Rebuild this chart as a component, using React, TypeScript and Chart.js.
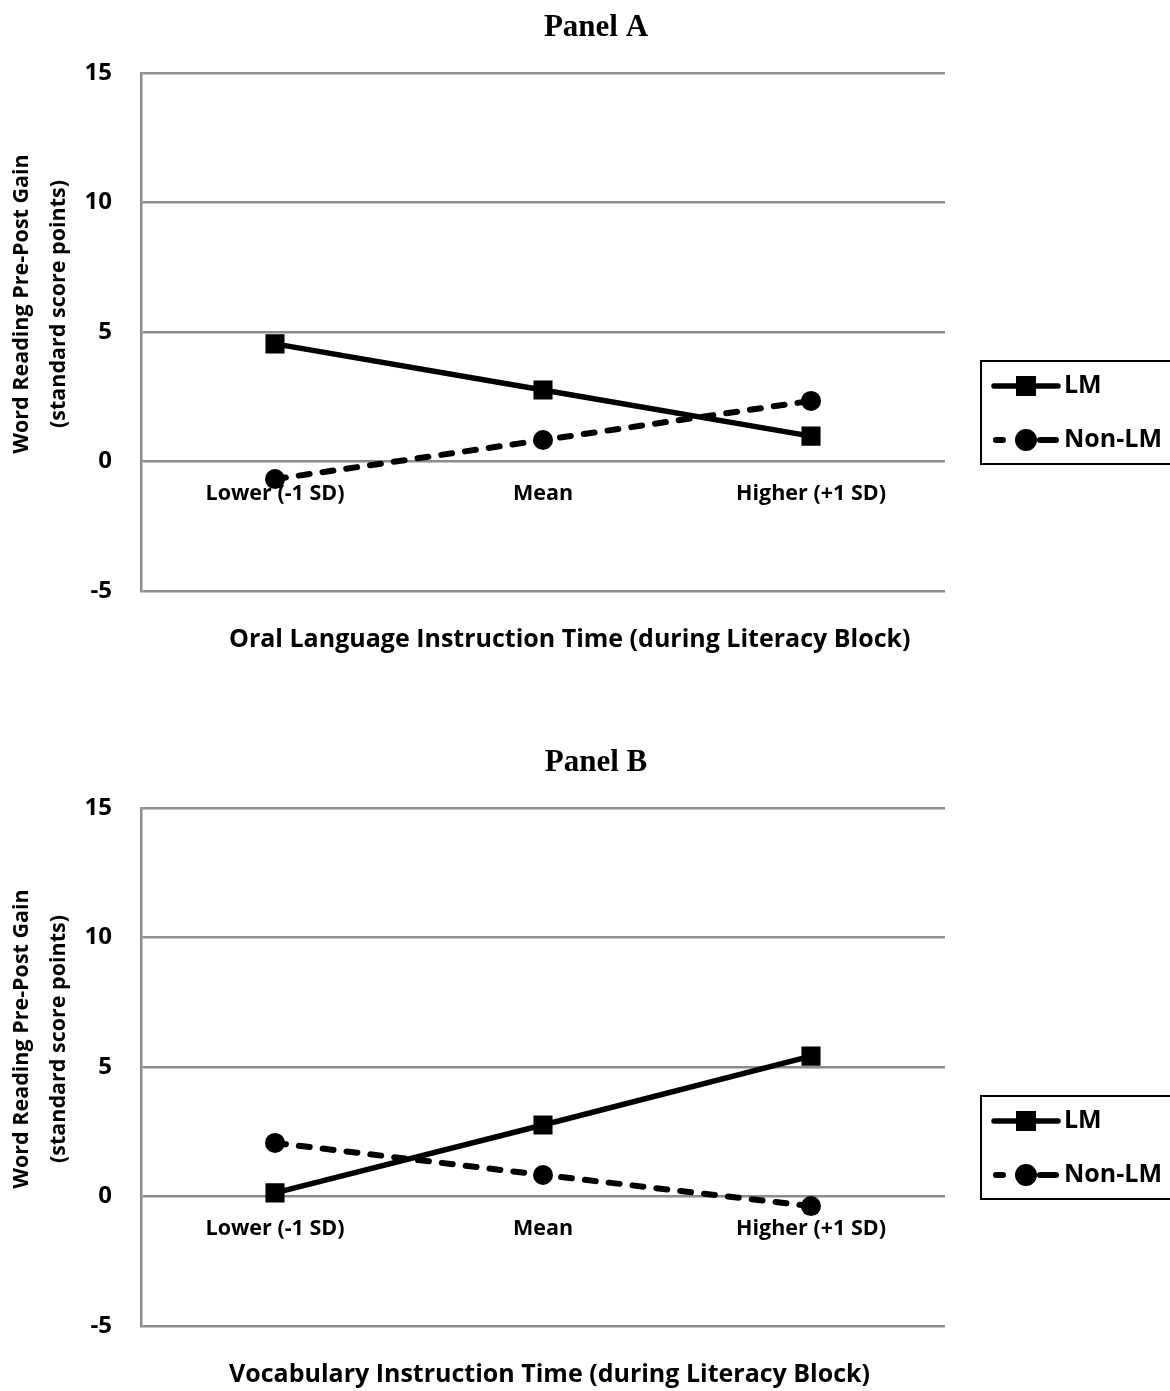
import React, { useEffect, useRef } from "react";
import { Chart, registerables } from "chart.js";

Chart.register(...registerables);

const categories = ["Lower (-1 SD)", "Mean", "Higher (+1 SD)"];
const yTicks = [-5, 0, 5, 10, 15];
const seriesNames = ["LM", "Non-LM"];

const panelATitle = "Panel A";
const panelAXTitle = "Oral Language Instruction Time (during Literacy Block)";
const panelALM = [4.54, 2.76, 0.98];
const panelANonLM = [-0.68, 0.83, 2.34];

const panelBTitle = "Panel B";
const panelBXTitle = "Vocabulary Instruction Time (during Literacy Block)";
const panelBLM = [0.14, 2.76, 5.42];
const panelBNonLM = [2.07, 0.83, -0.37];

const yTitleLines = ["Word Reading Pre-Post Gain", "(standard score points)"];

const SANS = "'Open Sans', sans-serif";
const SERIF = "'Liberation Serif', 'Times New Roman', serif";
const GRID = "#8c8c8c";

function PanelChart(props: {
  title: string;
  xTitle: string;
  lm: number[];
  nonlm: number[];
  height: number;
  top: number;
}) {
  const ref = useRef<HTMLCanvasElement | null>(null);
  useEffect(() => {
    if (!ref.current) return;
    const { title, xTitle } = props;
    const decor = {
      id: "decor",
      afterDraw(chart: any) {
        const ctx = chart.ctx as CanvasRenderingContext2D;
        const ca = chart.chartArea;
        ctx.save();
        ctx.fillStyle = "#000";
        ctx.font = `bold 31px ${SERIF}`;
        ctx.textAlign = "center";
        ctx.textBaseline = "middle";
        ctx.fillText(title, 596, 28);
        ctx.font = `bold 25px ${SANS}`;
        ctx.textAlign = "left";
        ctx.fillText(xTitle, 229, 640);
        ctx.textAlign = "center";
        ctx.save();
        ctx.translate(22, (ca.top + ca.bottom) / 2 - 28);
        ctx.rotate(-Math.PI / 2);
        ctx.font = `bold 21.5px ${SANS}`;
        ctx.fillText(yTitleLines[0], 0, 0);
        ctx.fillText(yTitleLines[1], 0, 37);
        ctx.restore();
        // Legend
        const bx = 981, by = 361, bw = 200, bh = 103;
        ctx.lineWidth = 2;
        ctx.strokeStyle = "#000";
        ctx.strokeRect(bx, by, bw, bh);
        chart.data.datasets.forEach((ds: any, i: number) => {
          const y = by + 25 + i * 54;
          ctx.save();
          ctx.strokeStyle = ds.borderColor;
          ctx.lineWidth = ds.borderWidth;
          ctx.lineCap = "round";
          ctx.beginPath();
          if (ds.borderDash && ds.borderDash.length) {
            ctx.moveTo(996, y);
            ctx.lineTo(1003, y);
            ctx.moveTo(1040, y);
            ctx.lineTo(1056, y);
          } else {
            ctx.moveTo(994, y);
            ctx.lineTo(1058, y);
          }
          ctx.stroke();
          ctx.fillStyle = ds.pointBackgroundColor;
          if (ds.pointStyle === "rect") {
            const s = 10;
            ctx.fillRect(1026 - s, y - s, 2 * s, 2 * s);
          } else {
            ctx.beginPath();
            ctx.arc(1026, y, 11, 0, Math.PI * 2);
            ctx.fill();
          }
          ctx.restore();
          ctx.fillStyle = "#000";
          ctx.font = `bold 25px ${SANS}`;
          ctx.textAlign = "left";
          ctx.textBaseline = "middle";
          ctx.fillText(ds.label, 1064, y);
        });
        ctx.restore();
      },
    };
    const chart = new Chart(ref.current, {
      type: "line",
      data: {
        labels: categories,
        datasets: [
          {
            label: seriesNames[0],
            data: props.lm,
            borderColor: "#000",
            backgroundColor: "#000",
            borderWidth: 5.5,
            pointStyle: "rect",
            pointRadius: 13.5,
            pointBorderWidth: 0,
            pointBackgroundColor: "#000",
            tension: 0,
          },
          {
            label: seriesNames[1],
            data: props.nonlm,
            borderColor: "#000",
            backgroundColor: "#000",
            borderWidth: 6,
            borderDash: [11, 13],
            borderCapStyle: "round",
            pointStyle: "circle",
            pointRadius: 10,
            pointBorderWidth: 0,
            pointBackgroundColor: "#000",
            tension: 0,
          },
        ],
      } as any,
      options: {
        animation: false,
        responsive: false,
        maintainAspectRatio: false,
        layout: {
          padding: { top: 73, bottom: props.height - 591, left: 0, right: 225 },
        },
        plugins: {
          legend: { display: false },
          tooltip: { enabled: false },
          title: { display: false },
        },
        scales: {
          x: {
            type: "category",
            position: { y: 0 } as any,
            offset: true,
            grid: { display: false, drawTicks: false },
            border: { display: false },
            ticks: {
              color: "#000",
              font: { family: SANS, size: 21.5, weight: "bold" },
              padding: 19,
              maxRotation: 0,
              autoSkip: false,
            },
          },
          y: {
            min: -5,
            max: 15,
            afterBuildTicks: (scale: any) => {
              scale.ticks = yTicks.map((v) => ({ value: v }));
            },
            afterFit: (scale: any) => {
              scale.width = 141;
            },
            grid: { color: GRID, lineWidth: 2.5, drawTicks: false },
            border: { display: true, color: GRID, width: 2.5 },
            ticks: {
              color: "#000",
              font: { family: SANS, size: 24, weight: "bold" },
              padding: 29,
            },
          },
        },
      } as any,
      plugins: [decor],
    });
    return () => chart.destroy();
  }, []);
  return (
    <canvas
      ref={ref}
      width={1170}
      height={props.height}
      style={{ position: "absolute", left: 0, top: props.top, width: 1170, height: props.height }}
    />
  );
}

export default function App() {
  useEffect(() => {
    document.body.style.margin = "0";
  }, []);
  return (
    <div style={{ position: "relative", width: 1170, height: 1391, background: "#fff", overflow: "hidden" }}>
      <PanelChart title={panelATitle} xTitle={panelAXTitle} lm={panelALM} nonlm={panelANonLM} height={735} top={0} />
      <PanelChart title={panelBTitle} xTitle={panelBXTitle} lm={panelBLM} nonlm={panelBNonLM} height={656} top={735} />
    </div>
  );
}
